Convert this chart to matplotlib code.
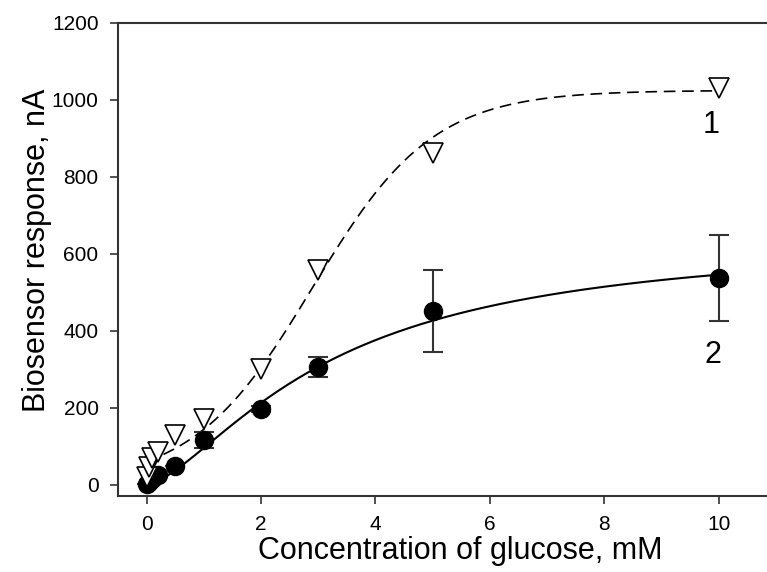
import numpy as np
from matplotlib import pyplot as plt

plt.rcParams['font.family'] = ['Liberation Sans', 'DejaVu Sans']

# curve 1 (open triangles)
conc_1 = [0, 0.05, 0.1, 0.2, 0.5, 1, 2, 3, 5, 10]
resp_1 = [21, 47, 70, 86, 130, 170, 300, 558, 862, 1030]

# curve 2 (filled circles) with error bars
conc_2 = [0, 0.05, 0.1, 0.2, 0.5, 1, 2, 3, 5, 10]
resp_2 = [3, 8, 14, 26, 50, 117, 197, 306, 451, 538]
err_2 = [0, 0, 0, 0, 0, 20, 8, 27, 107, 112]

# fit parameters
# curve 1: sigmoid  y = a / (1 + exp(-(x - x0) / b))
sig_a, sig_x0, sig_b = 1025, 2.9, 1.05
# curve 2: Hill  y = a * x^n / (k^n + x^n)
hill_a, hill_k, hill_n = 645, 3.2, 1.5

x_fit = np.linspace(0, 10, 300)
y_fit_1 = sig_a / (1 + np.exp(-(x_fit - sig_x0) / sig_b))
y_fit_2 = hill_a * x_fit**hill_n / (hill_k**hill_n + x_fit**hill_n)

fig = plt.figure(figsize=(7.67, 5.72), dpi=100)
ax = fig.add_axes([118/767, 76/572, 658/767, 473/572])

ax.plot(x_fit, y_fit_1, color='black', lw=1.2, ls=(0, (7, 4)), zorder=2)
ax.plot(x_fit, y_fit_2, color='black', lw=1.5, zorder=2)

ax.errorbar(conc_2, resp_2, yerr=err_2, fmt='none', ecolor='#333333',
            elinewidth=1.5, capsize=7, capthick=1.5, zorder=3)
ax.plot(conc_2, resp_2, 'o', color='black', ms=13, zorder=4)
ax.plot(conc_1, resp_1, 'v', mfc='white', mec='black', mew=1.2, ms=15, zorder=5)

ax.text(9.86, 935, '1', fontsize=22, ha='center', va='center')
ax.text(9.9, 338, '2', fontsize=22, ha='center', va='center')

ax.set_xlim(-0.5, 11)
ax.set_ylim(-29, 1200)
ax.set_xticks(np.arange(0, 11, 2))
ax.set_yticks(np.arange(0, 1201, 200))

for side in ['left', 'top', 'bottom']:
    ax.spines[side].set_color('#333333')
    ax.spines[side].set_linewidth(1.5)
ax.spines['right'].set_visible(False)

ax.tick_params(direction='out', length=6, width=1.2, color='#333333',
               labelsize=15, pad=8)

ax.set_xlabel('Concentration of glucose, mM', fontsize=22)
ax.set_ylabel('Biosensor response, nA', fontsize=22)
ax.xaxis.set_label_coords(0.52, -0.085)
ax.yaxis.set_label_coords(-0.1, 0.52)

plt.savefig('out.png', dpi=100)
